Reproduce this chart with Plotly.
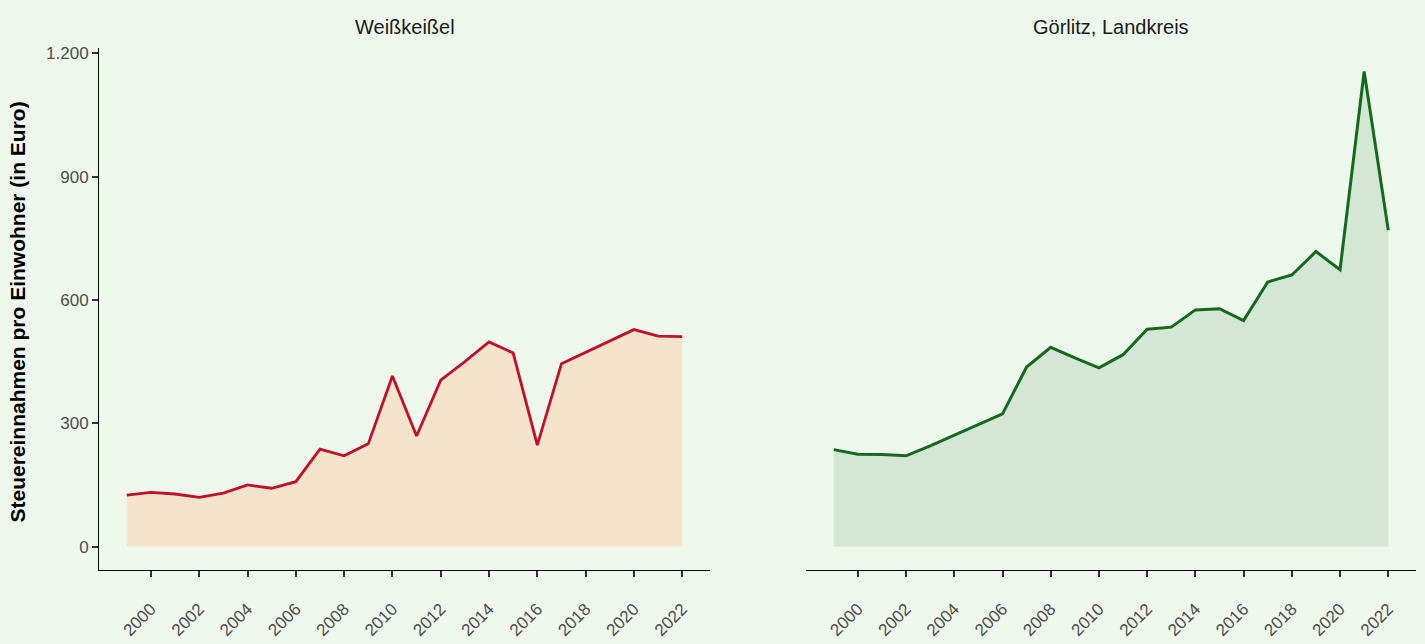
import plotly.graph_objects as go

years = list(range(1999, 2023))
weisskeissel = [125, 132, 128, 120, 130, 150, 142, 158, 237, 221, 250, 415, 269, 405,
                450, 498, 471, 247, 445, 473, 500, 528, 512, 511]
goerlitz = [236, 225, 224, 221, 245, 271, 297, 323, 437, 485, 459, 435, 467, 529,
            534, 576, 579, 550, 644, 661, 718, 674, 1156, 770]
panel_titles = ["Weißkeißel", "Görlitz, Landkreis"]
y_ticks = [0, 300, 600, 900, 1200]
y_ticklabels = ["0", "300", "600", "900", "1.200"]
x_ticks = list(range(2000, 2023, 2))
y_title = "Steuereinnahmen pro Einwohner (in Euro)"

BG = "#edf7ec"
FONT = "Liberation Sans, Arial, sans-serif"

fig = go.Figure()
fig.add_trace(go.Scatter(x=years, y=weisskeissel, mode="lines", fill="tozeroy",
                         fillcolor="#f6e3cb", line=dict(color="#c0102b", width=2.8),
                         xaxis="x", yaxis="y", showlegend=False))
fig.add_trace(go.Scatter(x=years, y=goerlitz, mode="lines", fill="tozeroy",
                         fillcolor="#d4e6d4", line=dict(color="#136a1c", width=3),
                         xaxis="x2", yaxis="y2", showlegend=False))

xr = [1997.85, 2023.15]
yr = [-57.8, 1213.8]
xcommon = dict(range=xr, tickvals=x_ticks, ticktext=[str(v) for v in x_ticks],
               tickangle=-45, ticks="outside", ticklen=6, tickwidth=1.5, tickcolor="#333333",
               showline=True, linecolor="#000000", linewidth=1, showgrid=False, zeroline=False,
               tickfont=dict(family=FONT, size=17, color="#4d4d4d"), ticklabelstandoff=15,
               fixedrange=True)
ybase = dict(range=yr, showgrid=False, zeroline=False, fixedrange=True)

ydom = [(644 - 570) / 644, (644 - 45) / 644]
fig.update_layout(
    width=1425, height=644,
    margin=dict(l=0, r=0, t=0, b=0),
    paper_bgcolor=BG, plot_bgcolor=BG,
    xaxis=dict(domain=[99 / 1425, 710 / 1425], anchor="y", **xcommon),
    xaxis2=dict(domain=[806 / 1425, 1416 / 1425], anchor="y2", **xcommon),
    yaxis=dict(domain=ydom, anchor="x", tickvals=y_ticks, ticktext=y_ticklabels,
               ticks="outside", ticklen=6, tickwidth=1.5, tickcolor="#333333",
               showline=True, linecolor="#000000", linewidth=1,
               tickfont=dict(family=FONT, size=17, color="#4d4d4d"), **ybase),
    yaxis2=dict(domain=ydom, anchor="x2", showticklabels=False, showline=False,
                ticks="", **ybase),
    annotations=[
        dict(text=panel_titles[0], x=(99 + 710) / 2 / 1425, y=(644 - 24) / 644,
             xref="paper", yref="paper", showarrow=False, xanchor="center", yanchor="middle",
             font=dict(family=FONT, size=20, color="#1a1a1a")),
        dict(text=panel_titles[1], x=(806 + 1416) / 2 / 1425, y=(644 - 24) / 644,
             xref="paper", yref="paper", showarrow=False, xanchor="center", yanchor="middle",
             font=dict(family=FONT, size=20, color="#1a1a1a")),
        dict(text="<b>" + y_title + "</b>", x=18 / 1425, y=(644 - 311) / 644,
             xref="paper", yref="paper", showarrow=False, textangle=-90,
             xanchor="center", yanchor="middle",
             font=dict(family=FONT, size=21, color="#000000")),
    ],
)

fig.write_html("out.html", config={"displayModeBar": False},
               post_script="document.body.style.margin='0';document.body.style.padding='0';")
